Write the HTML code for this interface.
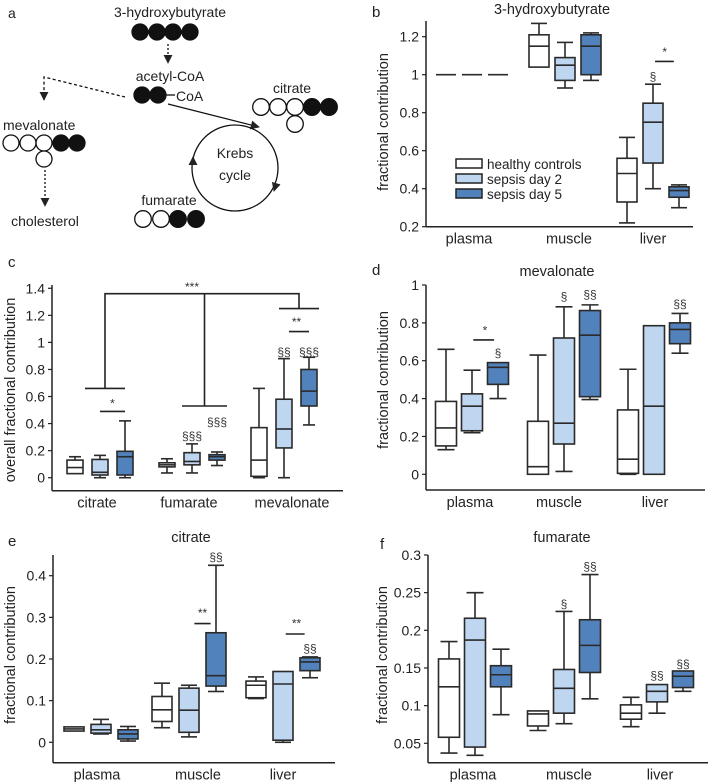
<!DOCTYPE html>
<html><head><meta charset="utf-8"><style>
html,body{margin:0;padding:0;background:#fff}
svg{display:block;font-family:"Liberation Sans",sans-serif}
</style></head><body>
<svg id="fig" width="710" height="782" viewBox="0 0 710 782" xmlns="http://www.w3.org/2000/svg">
<defs>
<marker id="ah" viewBox="0 0 10 10" refX="9" refY="5" markerWidth="7" markerHeight="7" orient="auto"><path d="M0,0 L10,5 L0,10 z" fill="#222"/></marker>
</defs>
<g id="panel-a" fill="#222" font-size="14">
<text x="8" y="18">a</text>
<text x="170" y="17" text-anchor="middle">3-hydroxybutyrate</text>
<g stroke="#111" stroke-width="1.3">
<circle cx="140" cy="32" r="8" fill="#111"/><circle cx="157" cy="32" r="8" fill="#111"/><circle cx="173" cy="32" r="8" fill="#111"/><circle cx="190" cy="32" r="8" fill="#111"/>
<circle cx="142" cy="95" r="8" fill="#111"/><circle cx="158" cy="95" r="8" fill="#111"/>
<circle cx="11" cy="143" r="8" fill="#fff"/><circle cx="28" cy="143" r="8" fill="#fff"/><circle cx="44" cy="143" r="8" fill="#fff"/><circle cx="61" cy="143" r="8" fill="#111"/><circle cx="77" cy="143" r="8" fill="#111"/><circle cx="44" cy="159" r="8" fill="#fff"/>
<circle cx="261" cy="107" r="8.3" fill="#fff"/><circle cx="278" cy="107" r="8.3" fill="#fff"/><circle cx="295" cy="107" r="8.3" fill="#fff"/><circle cx="312" cy="107" r="8.3" fill="#111"/><circle cx="329" cy="107" r="8.3" fill="#111"/><circle cx="295" cy="124" r="8.3" fill="#fff"/>
<circle cx="143" cy="219" r="8.3" fill="#fff"/><circle cx="161" cy="219" r="8.3" fill="#fff"/><circle cx="178" cy="219" r="8.3" fill="#111"/><circle cx="196" cy="219" r="8.3" fill="#111"/>
<line x1="166" y1="95" x2="175" y2="95"/>
<line x1="168" y1="44" x2="168" y2="63" stroke-dasharray="2,2" marker-end="url(#ah)"/>
<polyline points="125,97 44,77 44,100" fill="none" stroke-dasharray="3,2.5" marker-end="url(#ah)"/>
<line x1="45" y1="170" x2="45" y2="206" stroke-dasharray="2,2" marker-end="url(#ah)"/>
<line x1="168" y1="104" x2="259" y2="127" marker-end="url(#ah)"/>
<circle cx="235" cy="168" r="43" fill="none"/>
<line x1="193" y1="164" x2="193" y2="157" marker-end="url(#ah)"/>
<line x1="276" y1="184" x2="274" y2="191" marker-end="url(#ah)"/>
</g>
<text x="176" y="101">CoA</text>
<text x="170" y="81" text-anchor="middle">acetyl-CoA</text>
<text x="3" y="130">mevalonate</text>
<text x="45" y="226" text-anchor="middle">cholesterol</text>
<text x="292" y="93" text-anchor="middle">citrate</text>
<text x="169" y="205" text-anchor="middle">fumarate</text>
<text x="235" y="158" text-anchor="middle">Krebs</text>
<text x="235" y="180" text-anchor="middle">cycle</text>
</g>
</svg>
<script>
// ---- data: order per category [healthy, sepsis day 2, sepsis day 5] ----
const groupNames = ["healthy controls","sepsis day 2","sepsis day 5"];
const bCategories = ["plasma","muscle","liver"];
const bLow  = [1,1,1, 1.04,0.93,0.97, 0.22,0.40,0.30];
const bQ1   = [1,1,1, 1.04,0.97,1.00, 0.33,0.535,0.355];
const bMed  = [1,1,1, 1.15,1.05,1.15, 0.48,0.75,0.39];
const bQ3   = [1,1,1, 1.21,1.09,1.21, 0.56,0.85,0.41];
const bHigh = [1,1,1, 1.27,1.17,1.22, 0.67,0.95,0.42];
const bTicks = [0.2,0.4,0.6,0.8,1,1.2];
const bTickLabels = ["0.2","0.4","0.6","0.8","1","1.2"];

const cCategories = ["citrate","fumarate","mevalonate"];
const cLow  = [0.03,0,0, 0.035,0.035,0.09, 0,0,0.39];
const cQ1   = [0.03,0.02,0.02, 0.08,0.095,0.13, 0.01,0.22,0.53];
const cMed  = [0.075,0.04,0.155, 0.095,0.12,0.155, 0.13,0.36,0.64];
const cQ3   = [0.13,0.135,0.195, 0.11,0.185,0.17, 0.37,0.58,0.80];
const cHigh = [0.155,0.165,0.42, 0.14,0.25,0.19, 0.66,0.88,0.89];
const cTicks = [0,0.2,0.4,0.6,0.8,1,1.2,1.4];
const cTickLabels = ["0","0.2","0.4","0.6","0.8","1","1.2","1.4"];

const dCategories = ["plasma","muscle","liver"];
const dLow  = [0.13,0.22,0.40, 0,0.015,0.395, 0,0,0.64];
const dQ1   = [0.15,0.23,0.475, 0,0.16,0.41, 0.005,0,0.69];
const dMed  = [0.245,0.36,0.565, 0.04,0.27,0.735, 0.08,0.36,0.765];
const dQ3   = [0.385,0.425,0.59, 0.28,0.72,0.865, 0.34,0.785,0.80];
const dHigh = [0.66,0.55,0.59, 0.63,0.885,0.895, 0.555,0.785,0.85];
const dTicks = [0,0.2,0.4,0.6,0.8,1];
const dTickLabels = ["0","0.2","0.4","0.6","0.8","1"];

const eCategories = ["plasma","muscle","liver"];
const eLow  = [0.027,0.02,0.003, 0.035,0.013,0.122, 0.105,0,0.155];
const eQ1   = [0.027,0.022,0.008, 0.05,0.024,0.135, 0.107,0.005,0.172];
const eMed  = [0.032,0.03,0.02, 0.078,0.077,0.16, 0.137,0.14,0.193];
const eQ3   = [0.037,0.043,0.03, 0.11,0.13,0.263, 0.147,0.17,0.203];
const eHigh = [0.037,0.055,0.038, 0.142,0.137,0.425, 0.157,0.17,0.205];
const eTicks = [0,0.1,0.2,0.3,0.4];
const eTickLabels = ["0","0.1","0.2","0.3","0.4"];

const fCategories = ["plasma","muscle","liver"];
const fLow  = [0.037,0.034,0.088, 0.067,0.076,0.109, 0.072,0.09,0.119];
const fQ1   = [0.058,0.045,0.125, 0.073,0.09,0.144, 0.082,0.105,0.124];
const fMed  = [0.125,0.187,0.141, 0.089,0.123,0.18, 0.09,0.119,0.139];
const fQ3   = [0.162,0.216,0.153, 0.093,0.148,0.214, 0.101,0.128,0.146];
const fHigh = [0.185,0.25,0.175, 0.093,0.225,0.274, 0.111,0.128,0.146];
const fTicks = [0.05,0.1,0.15,0.2,0.25,0.3];
const fTickLabels = ["0.05","0.1","0.15","0.2","0.25","0.3"];

// annotations: [text, series index, value]
const bMarks = [["§",7,0.99],["*",7.45,1.12]];
const cMarks = [["*",1.5,0.55],["§§§",4,0.31],["§§§",5,0.41],["§§",7,0.93],["§§§",8,0.93],["**",7.5,1.15],["***",4,1.41]];
const dMarks = [["*",1.5,0.76],["§",2,0.64],["§",4,0.94],["§§",5,0.95],["§§",8,0.9]];
const eMarks = [["§§",5,0.445],["**",4.5,0.31],["**",7.5,0.285],["§§",8,0.225]];
const fMarks = [["§",4,0.235],["§§",5,0.285],["§§",7,0.14],["§§",8,0.155]];

const fills = ["#ffffff","#bed6f0","#5282bb"];
const NS = "http://www.w3.org/2000/svg";
const svg = document.getElementById("fig");
function mk(tag, attrs, parent, txt){
  const el = document.createElementNS(NS, tag);
  for (const k in attrs) el.setAttribute(k, attrs[k]);
  if (txt !== undefined) el.textContent = txt;
  (parent || svg).appendChild(el);
  return el;
}

function panel(cfg){
  const g = mk("g", {}, svg);
  
  
  const y = v => cfg.y0 - (v - cfg.v0) * cfg.k;
  const xs = i => { const gi = Math.floor(i/3), s = i%3; return cfg.centers[gi] + (s-1)*cfg.sp; };
  const xf = i => { const gi = Math.min(2, Math.floor(i/3)), s = i - gi*3; return cfg.centers[gi] + (s-1)*cfg.sp; };
  const ya = mk("line", {x1:cfg.ax, y1:cfg.yTop, x2:cfg.ax, y2:cfg.xAxisY, stroke:"#222","stroke-width":1.5}, g);
  
  
  const xa = mk("line", {x1:cfg.ax, y1:cfg.xAxisY, x2:cfg.xEnd, y2:cfg.xAxisY, stroke:"#222","stroke-width":1.5}, g);
  
  
  cfg.ticks.forEach((t, i) => {
    mk("line", {x1:cfg.ax-4, y1:y(t), x2:cfg.ax, y2:y(t), stroke:"#222","stroke-width":1.2}, g);
    const tl = mk("text", {x:cfg.ax-7, y:y(t)+5, "text-anchor":"end","font-size":14, fill:"#222"}, g, cfg.tickLabels[i]);
    
    
  });
  cfg.cats.forEach((c, i) => {
    const cl = mk("text", {x:cfg.catX[i], y:cfg.xAxisY+17, "text-anchor":"middle","font-size":14.5, fill:"#222"}, g, c);
    
    
  });
  const yt = mk("text", {x:0, y:0, "text-anchor":"middle","font-size":14.5, fill:"#222", transform:`translate(${cfg.ytX},${cfg.ytY}) rotate(-90)`}, g, cfg.yTitle);
  
  
  if (cfg.title) {
    const tt = mk("text", {x:cfg.titleX, y:cfg.titleY, "text-anchor":"middle","font-size":14.5, fill:"#222"}, g, cfg.title);
    
    
  }
  const pl = mk("text", {x:cfg.lblX, y:cfg.lblY, "font-size":15, fill:"#222"}, g, cfg.letter);
  
  
  const w = cfg.bw;
  cfg.low.forEach((lo, i) => {
    const bg = mk("g", {stroke:"#2a2a2a","stroke-width":1.6}, g);
    
    
    const cx = xs(i);
    if (cfg.high[i] > cfg.q3[i]) {
      mk("line", {x1:cx, y1:y(cfg.high[i]), x2:cx, y2:y(cfg.q3[i])}, bg);
      mk("line", {x1:cx-w/2+2, y1:y(cfg.high[i]), x2:cx+w/2-2, y2:y(cfg.high[i])}, bg);
    }
    if (lo < cfg.q1[i]) {
      mk("line", {x1:cx, y1:y(lo), x2:cx, y2:y(cfg.q1[i])}, bg);
      mk("line", {x1:cx-w/2+2, y1:y(lo), x2:cx+w/2-2, y2:y(lo)}, bg);
    }
    mk("rect", {x:cx-w/2, y:y(cfg.q3[i]), width:w, height:Math.max(0, y(cfg.q1[i])-y(cfg.q3[i])), fill:fills[i%3]}, bg);
    mk("line", {x1:cx-w/2, y1:y(cfg.med[i]), x2:cx+w/2, y2:y(cfg.med[i])}, bg);
  });
  cfg.marks.forEach(m => {
    const cx = xf(m[1]);
    const at = mk("text", {x:cx, y:y(m[2])+4, "text-anchor":"middle","font-size":12, fill:"#333"}, g, m[0]);
    
    
  });
  (cfg.lines || []).forEach(l => {
    const ln = mk("polyline", {points:l.map(p => xf(p[0]) + "," + y(p[1])).join(" "), fill:"none", stroke:"#222","stroke-width":1.6}, g);
    
    
  });
  return g;
}

const gb = panel({name:"panel-b-hydroxybutyrate", letter:"b", lblX:372, lblY:17, title:"3-hydroxybutyrate", titleX:552, titleY:14,
  ax:426, yTop:21, xAxisY:226.7, xEnd:693, y0:226.7, v0:0.2, k:190, centers:[472,565,653], sp:26, bw:20,
  catX:[469,569,653], ytX:388, ytY:122, yTitle:"fractional contribution",
  cats:bCategories, low:bLow, q1:bQ1, med:bMed, q3:bQ3, high:bHigh, ticks:bTicks, tickLabels:bTickLabels, marks:bMarks,
  lines:[[[7.08,1.07],[7.8,1.07]]]});
[0,1,2].forEach(s => {
  const lg = mk("g", {}, gb);
  
  
  mk("rect", {x:456, y:159+s*15, width:26, height:9, fill:fills[s], stroke:"#222","stroke-width":1.5}, lg);
  mk("text", {x:487, y:169+s*15, "font-size":13.5, fill:"#222"}, lg, groupNames[s]);
});

panel({name:"panel-c-overall", letter:"c", lblX:8, lblY:267, title:null,
  ax:52, yTop:285, xAxisY:490.7, xEnd:343, y0:477.7, v0:0, k:135.3, centers:[100,192,284], sp:25, bw:16,
  catX:[97,189,292], ytX:15, ytY:390, yTitle:"overall fractional contribution",
  cats:cCategories, low:cLow, q1:cQ1, med:cMed, q3:cQ3, high:cHigh, ticks:cTicks, tickLabels:cTickLabels, marks:cMarks,
  lines:[[[1,0.49],[2,0.49]],[[6.8,1.25],[8.4,1.25]],[[7.2,1.08],[8,1.08]],
    [[0.4,0.66],[2,0.66]],[[3.6,0.53],[5.4,0.53]],[[1.2,0.66],[1.2,1.36],[7.6,1.36],[7.6,1.25]],[[4.5,0.53],[4.5,1.36]]]});

panel({name:"panel-d-mevalonate", letter:"d", lblX:372, lblY:275, title:"mevalonate", titleX:557, titleY:276,
  ax:426, yTop:285, xAxisY:490, xEnd:705, y0:474.3, v0:0, k:189.3, centers:[472,564,654], sp:26, bw:21,
  catX:[470,559,655], ytX:388, ytY:380, yTitle:"fractional contribution",
  cats:dCategories, low:dLow, q1:dQ1, med:dMed, q3:dQ3, high:dHigh, ticks:dTicks, tickLabels:dTickLabels, marks:dMarks,
  lines:[[[1.05,0.71],[1.85,0.71]]]});

panel({name:"panel-e-citrate", letter:"e", lblX:8, lblY:546, title:"citrate", titleX:191, titleY:542,
  ax:53, yTop:555, xAxisY:762.7, xEnd:335, y0:742.3, v0:0, k:416.5, centers:[101,189,283], sp:27, bw:20,
  catX:[97,198,283], ytX:15, ytY:655, yTitle:"fractional contribution",
  cats:eCategories, low:eLow, q1:eQ1, med:eMed, q3:eQ3, high:eHigh, ticks:eTicks, tickLabels:eTickLabels, marks:eMarks,
  lines:[[[4.2,0.285],[4.8,0.285]],[[7.1,0.26],[7.8,0.26]]]});

panel({name:"panel-f-fumarate", letter:"f", lblX:380, lblY:549, title:"fumarate", titleX:562, titleY:542,
  ax:428, yTop:555, xAxisY:762.7, xEnd:708, y0:743.3, v0:0.05, k:753.3, centers:[475,564,657], sp:26, bw:21,
  catX:[473,569,660], ytX:387, ytY:655, yTitle:"fractional contribution",
  cats:fCategories, low:fLow, q1:fQ1, med:fMed, q3:fQ3, high:fHigh, ticks:fTicks, tickLabels:fTickLabels, marks:fMarks});
</script>
</body></html>
